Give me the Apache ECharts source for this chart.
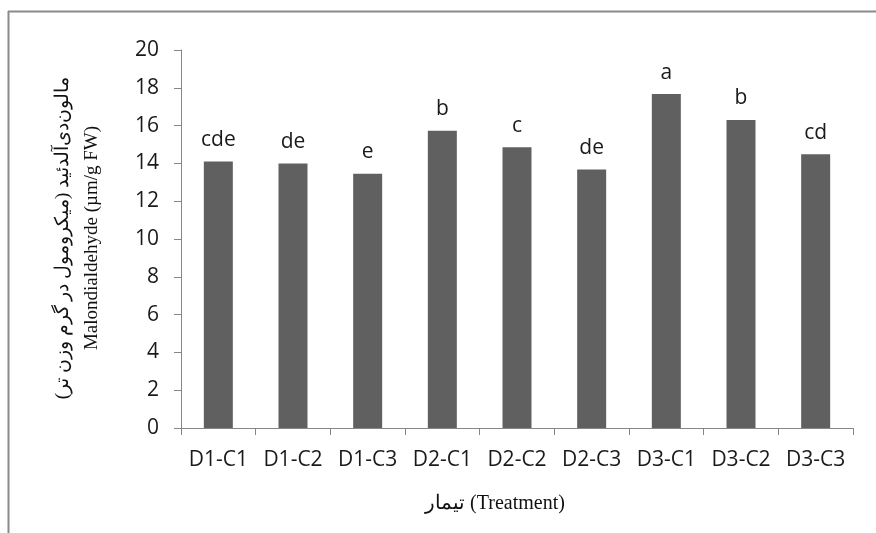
<!DOCTYPE html>
<html>
<head>
<meta charset="utf-8">
<script src="https://cdn.jsdelivr.net/npm/echarts@6/dist/echarts.min.js"></script>
<style>
html,body{margin:0;padding:0;background:#fff;}
#chart{width:876px;height:533px;}
</style>
</head>
<body>
<div id="chart"></div>
<script>
const categories = ['D1-C1','D1-C2','D1-C3','D2-C1','D2-C2','D2-C3','D3-C1','D3-C2','D3-C3'];
const values = [14.1, 14.0, 13.45, 15.73, 14.85, 13.68, 17.67, 16.3, 14.48];
const letters = ['cde','de','e','b','c','de','a','b','cd'];
const yTitleFa = '\u200Fمالون‌دی‌آلدئید (میکرومول در گرم وزن تر)\u200F';
const yTitleEn = 'Malondialdehyde (µm/g FW)';
const xTitle = 'تیمار (Treatment)';

const chart = echarts.init(document.getElementById('chart'), null, {renderer:'canvas'});
const axisColor = '#868686';
const sans = '"Open Sans", sans-serif';
const serif = '"Liberation Serif", "DejaVu Serif", serif';

chart.setOption({
  animation: false,
  backgroundColor: '#ffffff',
  grid: { left: 181, right: 23, top: 50, height: 378 },
  xAxis: {
    type: 'category',
    data: categories,
    axisLine: { lineStyle: { color: axisColor, width: 1 } },
    axisTick: { show: true, length: 7, lineStyle: { color: axisColor } },
    axisLabel: { color: '#1a1a1a', fontFamily: sans, fontSize: 21, margin: 22, interval: 0 }
  },
  yAxis: {
    type: 'value',
    min: 0, max: 20, interval: 2,
    splitLine: { show: false },
    axisLine: { show: true, lineStyle: { color: axisColor, width: 1 } },
    axisTick: { show: true, length: 7, lineStyle: { color: axisColor } },
    axisLabel: { color: '#1a1a1a', fontFamily: sans, fontSize: 21, margin: 22 }
  },
  series: [{
    type: 'bar',
    data: values,
    barWidth: 29,
    itemStyle: { color: '#606060' },
    label: {
      show: true,
      position: 'top',
      distance: 11,
      color: '#1a1a1a',
      fontFamily: sans,
      fontSize: 21,
      formatter: p => letters[p.dataIndex]
    }
  }],
  graphic: [
    { type: 'line', shape: { x1: 8, y1: 11.5, x2: 876, y2: 11.5 }, style: { stroke: '#8a8a8a', lineWidth: 2 } },
    { type: 'line', shape: { x1: 8.5, y1: 11, x2: 8.5, y2: 533 }, style: { stroke: '#8a8a8a', lineWidth: 2 } },
    { type: 'text', x: 63, y: 238, rotation: Math.PI/2,
      style: { text: yTitleFa, font: '19px ' + serif, fill: '#111', align: 'center', verticalAlign: 'middle' } },
    { type: 'text', x: 92, y: 238, rotation: Math.PI/2,
      style: { text: yTitleEn, font: '19px ' + serif, fill: '#111', align: 'center', verticalAlign: 'middle' } },
    { type: 'text', x: 495, y: 504,
      style: { text: xTitle, font: '20px ' + serif, fill: '#111', align: 'center', verticalAlign: 'middle' } }
  ]
});
</script>
</body>
</html>
